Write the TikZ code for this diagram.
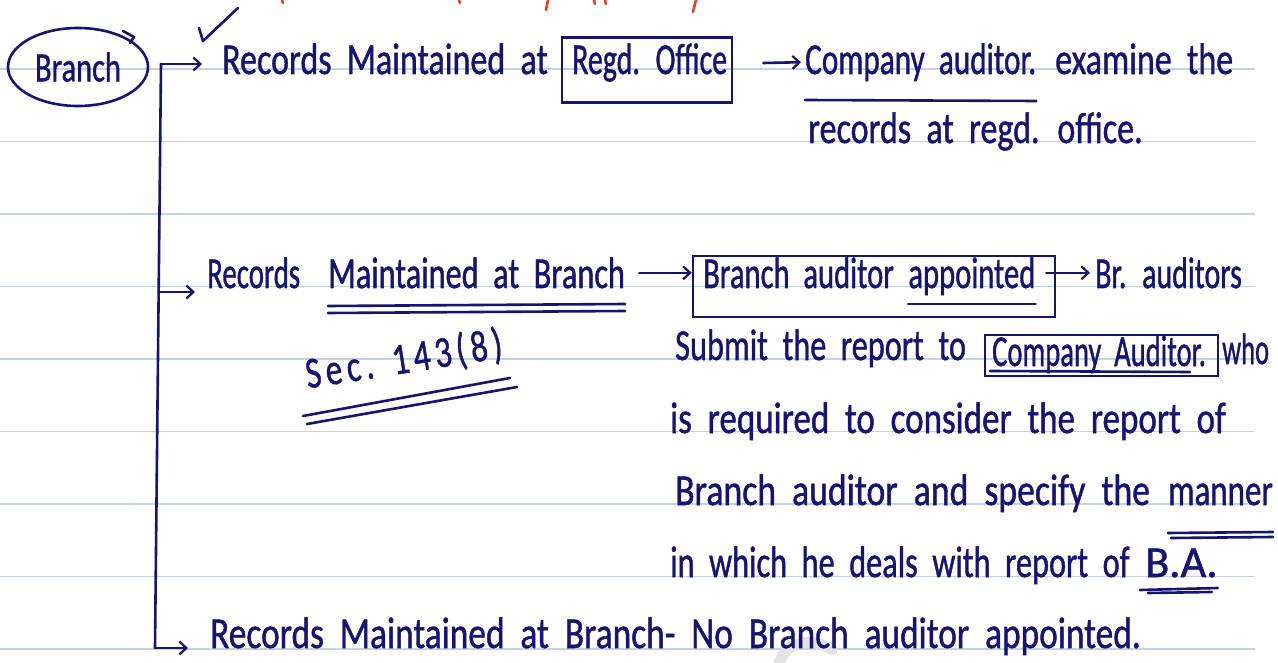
\documentclass[tikz,border=0pt]{standalone}
\usepackage{fontspec}
\setmainfont{Carlito}
\newfontfamily\penfam{Carlito}[FakeBold=1.2]
\usetikzlibrary{arrows.meta,shapes.geometric}
\definecolor{ink}{RGB}{22,20,112}
\definecolor{ruleblue}{RGB}{196,209,230}
\definecolor{penred}{RGB}{232,66,44}
% handwritten-looking text: tall letters, wide word gaps, optional horizontal squeeze
\newcommand{\handfont}{\penfam\fontsize{34}{40}\selectfont\spaceskip 0.45em\relax}
\newcommand{\hand}[2][1]{\scalebox{#1}[1.3]{#2}}

\begin{document}
\begin{tikzpicture}[x=1pt,y=-1pt,
  hw/.style={font=\handfont, text=ink, inner sep=0pt, anchor=base west},
  pen/.style={draw=ink, line width=2.6pt, line cap=round, line join=round},
  arr/.style={pen, -{Straight Barb[length=7pt,width=13pt,line width=2.2pt]}},
  ruled/.style={draw=ruleblue, line width=1.6pt},
  boxed/.style={draw=ink, line width=2.6pt, inner sep=0pt, rectangle},
  redpen/.style={draw=penred, line width=2.6pt, line cap=round}]

\fill[white] (0,0) rectangle (1278,663);
\useasboundingbox (0,0) rectangle (1278,663);

% ruled paper
\foreach \y in {69,141.5,214,286.5,359,431.5,504,576.5,649}
  \draw[ruled] (0,\y) -- (1255,\y);

% faint watermark swoosh
\draw[line width=11pt, draw=gray!22, line cap=round] (779,663) .. controls (786,642) and (812,636) .. (832,650);

% cut-off red writing along the top edge
\draw[redpen] (282,0) -- (283,3);
\draw[redpen] (459,0) -- (460,3);
\draw[redpen] (548,0) -- (546,10);
\draw[redpen] (594,0) -- (595,4);
\draw[redpen] (605,0) -- (606,4);
\draw[redpen] (696,0) -- (693,12);

% tick mark
\draw[pen] (199,28) -- (203,41) -- (238,8);

% root
\node[draw=ink, line width=2.6pt, ellipse, minimum width=140pt, minimum height=78pt, inner sep=0pt,
      font=\penfam\fontsize{32}{38}\selectfont, text=ink] (br) at (78,67) {\hand[0.95]{Branch}};
\draw[pen] (123,31) -- (134,37) -- (130,43);

% ---------- row 1 ----------
\node[hw] (rec1) at (222,74) {\hand{Records Maintained at}};
\node[boxed, minimum width=170pt, minimum height=65pt] (offbox) at (647,70) {};
\node[hw] (off) at (572,74) {\hand[0.88]{Regd. Office}};
\node[hw] (comp1) at (805,74) {\hand[0.92]{Company auditor.}};
\node[hw] (exam) at (1055,74) {\hand{examine the}};
\draw[pen] ([yshift=-26pt]comp1.base west) -- ([yshift=-27pt]comp1.base east);
\draw[arr] ([xshift=30pt,yshift=7pt]offbox.east) -- ([xshift=-4pt]comp1.west);
\node[hw] (rec2) at (808,143) {\hand{records at regd. office.}};

% ---------- row 2 ----------
\node[hw] (rec3a) at (207,288) {\hand[0.85]{Records}};
\node[hw] (rec3b) at (328,288) {\hand[0.95]{Maintained at Branch}};
\draw[pen] ([yshift=-18pt]rec3b.base west) -- ([yshift=-16pt]rec3b.base east);
\draw[pen] ([yshift=-25pt]rec3b.base west) -- ([yshift=-23pt]rec3b.base east);
\node[boxed, minimum width=362pt, minimum height=61pt] (babox) at (874,286.5) {};
\draw[arr] ([xshift=14pt]rec3b.east) -- (rec3b.east -| babox.west);
\node[hw] (ba1) at (703,288) {\hand[0.9]{Branch auditor}};
\node[hw] (ba2) at ([xshift=14pt]ba1.base east) {\hand[0.9]{appointed}};
\draw[pen] ([yshift=-16pt]ba2.base west) -- ([yshift=-16pt]ba2.base east);
\node[hw] (br1) at (1095,288) {\hand[0.88]{Br. auditors}};
\draw[arr] ([xshift=-10pt]babox.east |- br1.west) -- ([xshift=-5pt]br1.west);

% section reference, written on a slant with loose letter spacing
\node[hw, anchor=center, rotate=9] (sec) at (404,360) {\addfontfeature{LetterSpace=14}\hand[0.98]{Sec. 143(8)}};
\draw[pen] (303,416) -- (510,378);
\draw[pen] (307,424) -- (517,387);

% ---------- explanation ----------
\node[hw] (sub) at (675,360) {\hand[0.95]{Submit the report to}};
\node[boxed, minimum width=233pt, minimum height=41pt] (cabox) at (1101.5,355.5) {};
\node[hw] (ca) at (992,366) {\hand[0.84]{Company Auditor.}};
\draw[pen] (990,371) -- (1190,372);
\node[hw] (who) at (1222,364) {\hand[0.78]{who}};
\node[hw] (req) at (670,433) {\hand[1.03]{is required to consider the report of}};
\node[hw] (spec) at (675,505) {\hand[1.05]{Branch auditor and specify the}};
\node[hw] (man) at (1168,505) {\hand[0.97]{manner}};
\draw[pen] ([yshift=-28pt]man.base west) -- ([yshift=-27pt]man.base east);
\draw[pen] ([xshift=3pt,yshift=-33pt]man.base west) -- ([yshift=-32pt]man.base east);
\node[hw] (deal) at (670,577) {\hand[0.95]{in which he deals with report of}};
\node[hw] (baab) at (1145,577) {\hand[1.3]{B.A.}};
\draw[pen] ([xshift=-5pt,yshift=-13pt]baab.base west) -- ([yshift=-11pt]baab.base east);
\draw[pen] ([xshift=3pt,yshift=-16pt]baab.base west) -- ([xshift=-6pt,yshift=-15pt]baab.base east);

% ---------- row 3 ----------
\node[hw] (last) at (210,648) {\hand[1.04]{Records Maintained at Branch- No Branch auditor appointed.}};

% trunk and branches
\coordinate (top) at (161,64);
\coordinate (mid) at (158.6,292);
\coordinate (bend) at (155,648);
\draw[pen] (top) -- (bend);
\draw[arr] (top) -- ([xshift=-20pt]rec1.west |- top);
\draw[arr] (mid) -- ([xshift=-12pt]rec3a.west |- mid);
\draw[arr] (bend) -- ([xshift=-22pt]last.west |- bend);
\end{tikzpicture}
\end{document}
